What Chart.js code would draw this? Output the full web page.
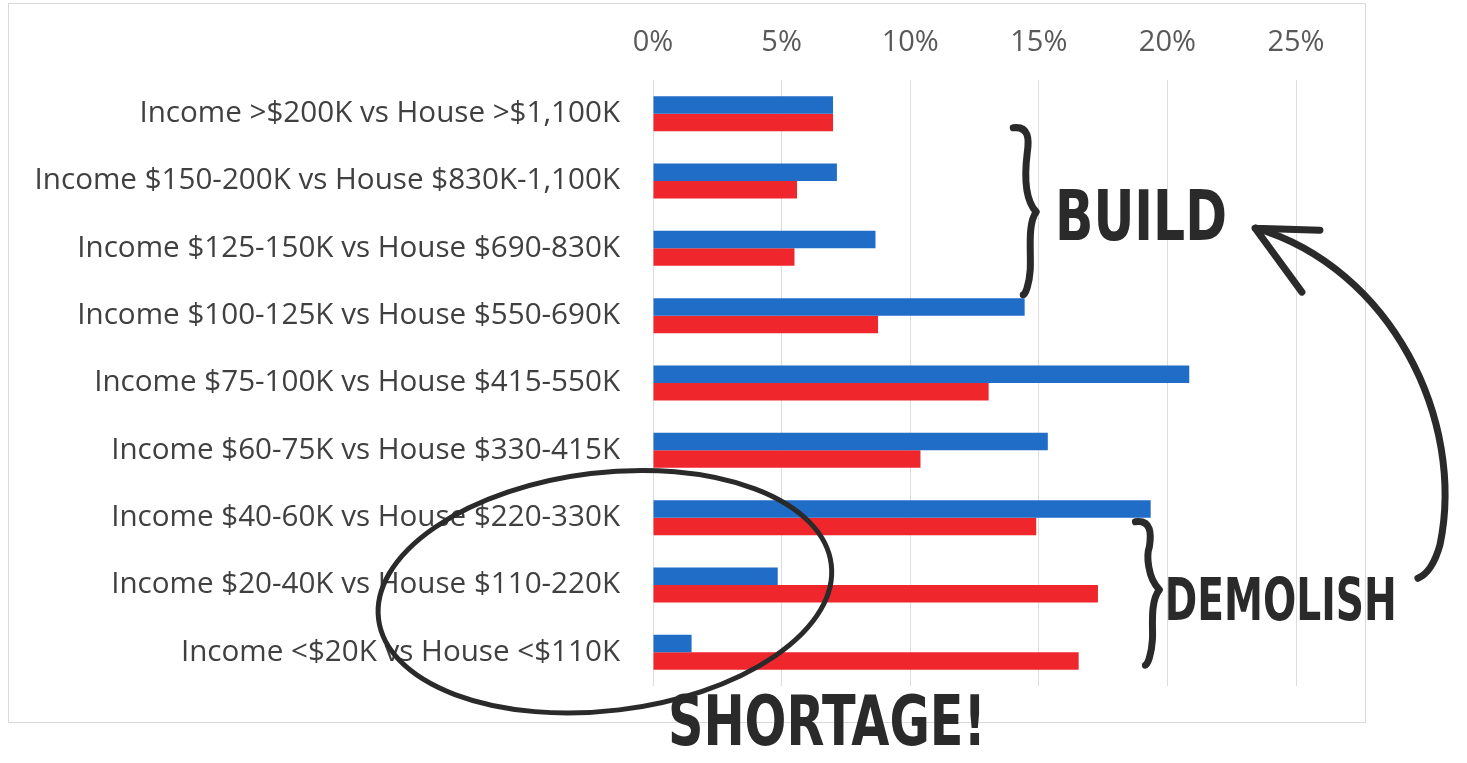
<!DOCTYPE html>
<html><head><meta charset="utf-8">
<script src="https://cdn.jsdelivr.net/npm/chart.js@4"></script>
<style>html,body{margin:0;padding:0;background:#fff;}canvas{display:block;}</style>
</head><body>
<canvas id="c" width="1467" height="763"></canvas>
<script>
const categories = [
  "Income >$200K vs House >$1,100K",
  "Income $150-200K vs House $830K-1,100K",
  "Income $125-150K vs House $690-830K",
  "Income $100-125K vs House $550-690K",
  "Income $75-100K vs House $415-550K",
  "Income $60-75K vs House $330-415K",
  "Income $40-60K vs House $220-330K",
  "Income $20-40K vs House $110-220K",
  "Income <$20K vs House <$110K"
];
const blueValues = [7.0, 7.15, 8.65, 14.45, 20.85, 15.35, 19.35, 4.85, 1.5];
const redValues  = [7.0, 5.6, 5.5, 8.75, 13.05, 10.4, 14.9, 17.3, 16.55];
const tickMin = 0, tickMax = 25, tickStep = 5;

const INK = '#2a2a2a';

const framePlugin = {
  id: 'frame',
  beforeDraw(chart) {
    const ctx = chart.ctx;
    ctx.save();
    ctx.fillStyle = '#fff';
    ctx.fillRect(0, 0, chart.width, chart.height);
    ctx.strokeStyle = '#d9d9d9';
    ctx.lineWidth = 1;
    ctx.strokeRect(8.5, 3.5, 1357, 719);
    ctx.restore();
  }
};

const inkPlugin = {
  id: 'ink',
  afterDraw(chart) {
    const xs = chart.scales.x, ys = chart.scales.y;
    const X = v => xs.getPixelForValue(v);
    const Y = c => ys.top + c * ys.height / categories.length;
    const ctx = chart.ctx;
    ctx.save();
    ctx.strokeStyle = INK;
    ctx.fillStyle = INK;
    ctx.lineCap = 'round';
    ctx.lineJoin = 'round';

    function brace(v, cTop, cMid, cBot, w) {
      const x = X(v), yt = Y(cTop), ym = Y(cMid), yb = Y(cBot);
      ctx.lineWidth = 7;
      ctx.beginPath();
      ctx.moveTo(x - 14, yt);
      ctx.bezierCurveTo(x + 2, yt - 2, x + 2, yt + 12, x, yt + 25);
      ctx.bezierCurveTo(x - 3, ym - 35, x - 2, ym - 12, x + w, ym);
      ctx.bezierCurveTo(x, ym + 12, x + 4, ym + 40, x + 3, yb - 25);
      ctx.bezierCurveTo(x + 2, yb - 10, x - 2, yb, x - 4, yb);
      ctx.stroke();
    }
    brace(14.55, 0.71, 1.96, 3.19, 9);
    brace(19.3, 6.56, 7.57, 8.69, 10);

    // circle around the shortage rows
    ctx.lineWidth = 5;
    ctx.beginPath();
    ctx.ellipse(X(-1.87), Y(7.6), 228, 119, -0.12, 0, Math.PI * 2);
    ctx.stroke();

    // curved arrow from DEMOLISH to BUILD
    ctx.lineWidth = 7;
    ctx.beginPath();
    ctx.moveTo(X(23.45), Y(2.2));
    ctx.bezierCurveTo(X(28.7), Y(2.8), X(31.6), Y(5.05), X(30.6), Y(6.9));
    ctx.quadraticCurveTo(X(30.3), Y(7.31), X(29.74), Y(7.4));
    ctx.stroke();
    ctx.beginPath();
    ctx.moveTo(X(23.41), Y(2.2));
    ctx.lineTo(X(25.93), Y(2.23));
    ctx.moveTo(X(23.41), Y(2.2));
    ctx.lineTo(X(25.23), Y(3.15));
    ctx.stroke();

    // handwritten words
    ctx.textBaseline = 'alphabetic';
    ctx.textAlign = 'left';
    ctx.font = 'bold 70px "DejaVu Sans Condensed", "DejaVu Sans", sans-serif';
    ctx.fillText('BUILD', X(15.63), Y(2.38), 172);
    ctx.font = 'bold 58px "DejaVu Sans Condensed", "DejaVu Sans", sans-serif';
    ctx.fillText('DEMOLISH', X(19.9), Y(8.02), 232);
    ctx.font = 'bold 70px "DejaVu Sans Condensed", "DejaVu Sans", sans-serif';
    ctx.fillText('SHORTAGE!', X(0.58), Y(9.88), 318);
    ctx.restore();
  }
};

new Chart(document.getElementById('c'), {
  type: 'bar',
  data: {
    labels: categories,
    datasets: [
      { label: 'Blue', data: blueValues, backgroundColor: '#1f6dc6', borderWidth: 0 },
      { label: 'Red', data: redValues, backgroundColor: '#f0262d', borderWidth: 0 }
    ]
  },
  options: {
    indexAxis: 'y',
    responsive: false,
    animation: false,
    devicePixelRatio: 1,
    categoryPercentage: 0.52,
    barPercentage: 1.0,
    layout: { padding: { left: 0, top: 0, right: 171, bottom: 77 } },
    plugins: { legend: { display: false }, tooltip: { enabled: false } },
    scales: {
      x: {
        position: 'top',
        min: tickMin, max: tickMax,
        ticks: {
          stepSize: tickStep,
          callback: v => v + '%',
          color: '#595959',
          font: { family: 'Open Sans', size: 29 },
          padding: 20
        },
        grid: { color: '#dcdcdc', drawTicks: false, lineWidth: 1 },
        border: { display: false },
        afterFit(s) { s.height = 80; }
      },
      y: {
        ticks: {
          color: '#404040',
          font: { family: 'Open Sans', size: 29.6 },
          padding: 33
        },
        grid: { display: false, drawTicks: false },
        border: { display: false },
        afterFit(s) { s.width = 653; }
      }
    }
  },
  plugins: [framePlugin, inkPlugin]
});
</script>
</body></html>
